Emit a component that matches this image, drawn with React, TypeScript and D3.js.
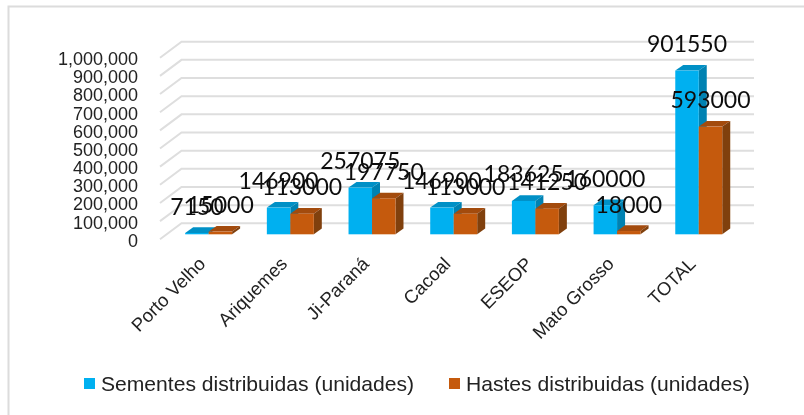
import React from "react";
import * as d3 from "d3";

const categories = ["Porto Velho", "Ariquemes", "Ji-Paraná", "Cacoal", "ESEOP", "Mato Grosso", "TOTAL"];
const sementes = [7150, 146900, 257075, 146900, 183625, 160000, 901550];
const hastes = [15000, 113000, 197750, 113000, 141250, 18000, 593000];
const ticks = [0, 100000, 200000, 300000, 400000, 500000, 600000, 700000, 800000, 900000, 1000000];
const seriesNames = ["Sementes distribuidas (unidades)", "Hastes distribuidas (unidades)"];
const palette = [
  { front: "#00B0F0", side: "#0082b2", top: "#0090c6" },
  { front: "#C55A11", side: "#80400f", top: "#a34b0e" },
];

const W = 804, H = 415;
const depthX = 8, depthY = 5.7;
const x0 = d3.scaleBand<string>().domain(categories).range([167.8, 739.6]).paddingInner(0.425).paddingOuter(0.2125);
const x1 = d3.scaleBand<string>().domain(["0", "1"]).range([0, x0.bandwidth()]);
const y = d3.scaleLinear().domain([0, 1000000]).range([234.3, 52.7]);
const gridY = d3.scaleLinear().domain([0, 1000000]).range([223.3, 41.7]);
const axisY = d3.scaleLinear().domain([0, 1000000]).range([246.7, 65]);
const fmt = d3.format(",");
const labelFont = "Lato, 'Open Sans', sans-serif";
const bodyFont = "'Liberation Sans', Arial, sans-serif";

function Bar({ px, value, w, c }: { px: number; value: number; w: number; c: { front: string; side: string; top: string } }) {
  const t = y(value), b = y(0);
  return (
    <g>
      <polygon points={`${px},${t} ${px + depthX},${t - depthY} ${px + w + depthX},${t - depthY} ${px + w},${t}`} fill={c.top} />
      <polygon points={`${px + w},${t} ${px + w + depthX},${t - depthY} ${px + w + depthX},${b - depthY} ${px + w},${b}`} fill={c.side} />
      <rect x={px} y={t} width={w} height={b - t} fill={c.front} />
    </g>
  );
}

export default function App() {
  const series = [sementes, hastes];
  const w = x1.bandwidth();
  return (
    <svg width={W} height={H} style={{ position: "absolute", left: 0, top: 0, background: "#fff" }}>
      <defs>
        <filter id="soft" x="-2%" y="-2%" width="104%" height="104%">
          <feGaussianBlur stdDeviation="0.45" />
        </filter>
      </defs>
      <g filter="url(#soft)">
        <path d={`M8.5,${H} V6.5 H${W}`} fill="none" stroke="#dcdcdc" strokeWidth={2} />
        {ticks.map((t) => (
          <polyline
            key={t}
            points={`160,${gridY(t) + 16} 181.5,${gridY(t)} 754,${gridY(t)}`}
            fill="none"
            stroke="#dedede"
            strokeWidth={2}
          />
        ))}
        {categories.map((cat, i) =>
          series.map((s, k) => (
            <Bar key={cat + k} px={x0(cat)! + x1(String(k))!} value={s[i]} w={w} c={palette[k]} />
          ))
        )}
        {ticks.map((t) => (
          <text key={t} x={138} y={axisY(t)} textAnchor="end" fontFamily={bodyFont} fontSize={18} fill="#222">
            {fmt(t)}
          </text>
        ))}
        {categories.map((cat) => {
          const cx = x0(cat)! + x0.bandwidth() / 2;
          return (
            <text
              key={cat}
              transform={`translate(${cx - 2},265) rotate(-45)`}
              textAnchor="end"
              fontFamily={bodyFont}
              fontSize={18.5}
              fill="#222"
            >
              {cat}
            </text>
          );
        })}
        {categories.map((cat, i) =>
          series.map((s, k) => (
            <text
              key={cat + k}
              x={x0(cat)! + x1(String(k))! + w / 2}
              y={y(s[i]) - 18.5}
              textAnchor="middle"
              fontFamily={labelFont}
              fontSize={23}
              fill="#111"
            >
              {s[i]}
            </text>
          ))
        )}
        {seriesNames.map((name, k) => {
          const sx = k === 0 ? 84 : 449;
          return (
            <g key={name}>
              <rect x={sx} y={378} width={11} height={11} fill={palette[k].front} />
              <text x={sx + 17} y={391} fontFamily={bodyFont} fontSize={21.1} fill="#222">
                {name}
              </text>
            </g>
          );
        })}
      </g>
    </svg>
  );
}
